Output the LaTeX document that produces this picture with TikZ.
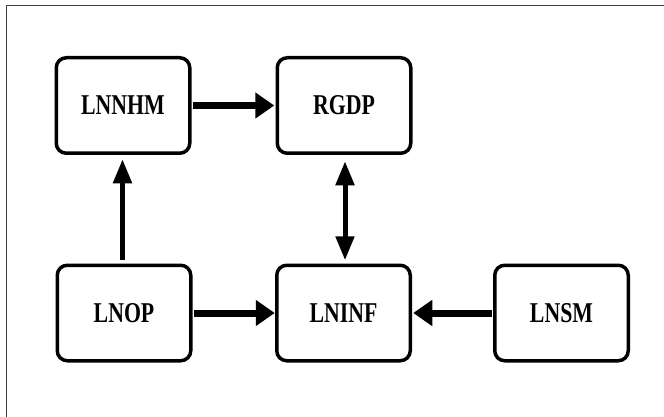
\documentclass[tikz,border=0pt]{standalone}
\usepackage{fontspec}
\setmainfont{Liberation Serif}
\usepackage{graphicx}
\usetikzlibrary{arrows.meta}
\tikzset{
  varbox/.style={draw, line width=3.5pt, rounded corners=10pt, minimum width=133.5pt, minimum height=95.5pt, outer sep=0pt, inner sep=0pt, font=\bfseries\fontsize{28.7}{30}\selectfont},
  fatarrow/.style={line width=7pt, -{Triangle[length=19pt,width=25pt]}},
  thinarrow/.style={line width=5pt, -{Triangle[length=24pt,width=18pt]}},
  thinboth/.style={line width=5pt, {Triangle[length=24pt,width=18pt]}-{Triangle[length=24pt,width=18pt]}},
  framestyle/.style={draw=black!75, line width=1pt}
}
\newcommand{\cond}[1]{\scalebox{0.76}[1]{#1}}
\begin{document}
\begin{tikzpicture}[x=1pt,y=-1pt]
\useasboundingbox (0,0) rectangle (664,417);
\fill[white] (0,0) rectangle (664,417);
\coordinate (fbl) at (6.5,417);
\coordinate (ftl) at (6.5,5.5);
\coordinate (ftr) at (664,5.5);
\draw[framestyle] (fbl) -- (ftl) -- (ftr);
\node[varbox] (lnnhm) at (123,105.5) {\cond{LNNHM}};
\node[varbox] (rgdp) at (344,105.5) {\cond{RGDP}};
\node[varbox] (lnop) at (124,313) {\cond{LNOP}};
\node[varbox] (lninf) at (343.5,313) {\cond{LNINF}};
\node[varbox] (lnsm) at (561.5,313) {\cond{LNSM}};
\draw[fatarrow, shorten <=3pt, shorten >=3pt] (lnnhm.east) -- (rgdp.west);
\draw[fatarrow, shorten <=3pt, shorten >=2pt] (lnop.east) -- (lninf.west);
\draw[fatarrow, shorten <=3pt, shorten >=3pt] (lnsm.west) -- (lninf.east);
\draw[thinarrow, shorten <=5pt, shorten >=6pt] ([xshift=-1.5pt]lnop.north) -- ([xshift=-0.5pt]lnnhm.south);
\draw[thinboth, shorten <=8pt, shorten >=5pt] ([xshift=1pt]rgdp.south) -- ([xshift=1.5pt]lninf.north);
\end{tikzpicture}
\end{document}
